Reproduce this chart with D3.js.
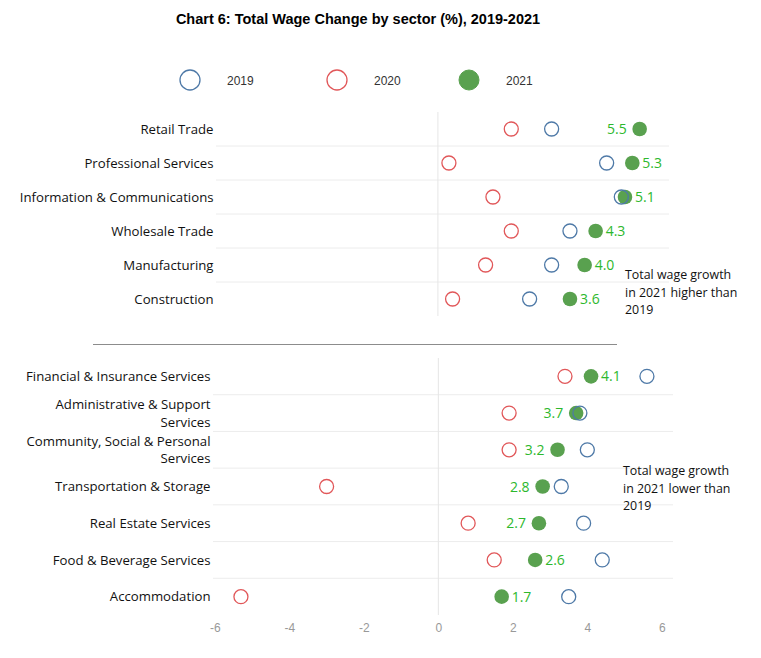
<!DOCTYPE html>
<html><head><meta charset="utf-8">
<script src="https://cdn.jsdelivr.net/npm/d3@7"></script>
<style>body{margin:0;background:#fff}svg{display:block}</style>
</head><body>
<script>
// ---- data ----
const topSectors = ["Retail Trade","Professional Services","Information & Communications","Wholesale Trade","Manufacturing","Construction"];
const top2019 = [3.1, 4.6, 5.0, 3.6, 3.1, 2.5];
const top2020 = [2.0, 0.3, 1.5, 2.0, 1.3, 0.4];
const top2021 = [5.5, 5.3, 5.1, 4.3, 4.0, 3.6];
const topLabelSide = ["left","right","right","right","right","right"];

const botSectors = ["Financial & Insurance Services","Administrative & Support|Services","Community, Social & Personal|Services","Transportation & Storage","Real Estate Services","Food & Beverage Services","Accommodation"];
const bot2019 = [5.6, 3.8, 4.0, 3.3, 3.9, 4.4, 3.5];
const bot2020 = [3.4, 1.9, 1.9, -3.0, 0.8, 1.5, -5.3];
const bot2021 = [4.1, 3.7, 3.2, 2.8, 2.7, 2.6, 1.7];
const botLabelSide = ["right","left","left","left","left","right","right"];

const xTicks = [-6,-4,-2,0,2,4,6];
const years = ["2019","2020","2021"];
const title = "Chart 6: Total Wage Change by sector (%), 2019-2021";
const noteTop = ["Total wage growth","in 2021 higher than","2019"];
const noteBot = ["Total wage growth","in 2021 lower than","2019"];

// ---- styles ----
const C19 = "#4e79a7", C20 = "#e15759", C21 = "#59a14f", CLAB = "#2db82d";
const FONT = "'Open Sans', 'Noto Sans', sans-serif";
const W = 761, H = 658;
const domain = [-6.05, 6.3];

const svg = d3.select("body").append("svg").attr("width", W).attr("height", H);

svg.append("text").attr("x", 358).attr("y", 24).attr("text-anchor","middle")
  .attr("font-family","'Liberation Sans', Arial, sans-serif").attr("font-weight","bold")
  .attr("font-size", 14.5).attr("fill","#000").text(title);

// legend
const legPos = [190, 337, 469];
const legG = svg.append("g");
years.forEach((y, i) => {
  const cx = legPos[i];
  const c = legG.append("circle").attr("cx", cx).attr("cy", 80).attr("r", 10);
  if (i === 2) c.attr("fill", C21).attr("stroke", C21);
  else c.attr("fill", "none").attr("stroke", i === 0 ? C19 : C20).attr("stroke-width", 1.3);
  legG.append("text").attr("x", cx + 37).attr("y", 84.5)
    .attr("font-family","'Liberation Sans', Arial, sans-serif").attr("font-size", 12)
    .attr("fill","#333").text(y);
});

function panel(sectors, v19, v20, v21, sides, xr, y0, y1, showAxis) {
  const x = d3.scaleLinear().domain(domain).range(xr);
  const y = d3.scaleBand().domain(sectors).range([y0, y1]);
  const g = svg.append("g");
  // row separators
  g.selectAll("line.row").data(sectors.slice(1)).join("line")
    .attr("x1", xr[0]).attr("x2", xr[1])
    .attr("y1", d => y(d)).attr("y2", d => y(d))
    .attr("stroke", "#ececec").attr("stroke-width", 1);
  // zero line
  g.append("line").attr("x1", x(0)).attr("x2", x(0)).attr("y1", y0).attr("y2", y1)
    .attr("stroke", "#e6e6e6").attr("stroke-width", 1);
  // category labels
  sectors.forEach(s => {
    const lines = s.split("|");
    const cy = y(s) + y.bandwidth() / 2;
    const t = g.append("text").attr("text-anchor","end").attr("font-family", FONT)
      .attr("font-size", 13.2).attr("fill", "#111");
    lines.forEach((ln, i) => {
      t.append("tspan").attr("x", xr[0] - 2.5)
        .attr("y", cy + 4.7 + (i - (lines.length - 1) / 2) * 17.5).text(ln);
    });
  });
  const cy = (d, i) => y(sectors[i]) + y.bandwidth() / 2;
  g.selectAll("circle.c20").data(v20).join("circle")
    .attr("cx", d => x(d)).attr("cy", cy).attr("r", 7)
    .attr("fill","none").attr("stroke", C20).attr("stroke-width", 1.3);
  g.selectAll("circle.c21").data(v21).join("circle")
    .attr("cx", d => x(d)).attr("cy", cy).attr("r", 7.3).attr("fill", C21);
  g.selectAll("circle.c19").data(v19).join("circle")
    .attr("cx", d => x(d)).attr("cy", cy).attr("r", 7)
    .attr("fill","none").attr("stroke", C19).attr("stroke-width", 1.3);
  g.selectAll("text.lab").data(v21).join("text")
    .attr("x", (d, i) => x(d) + (sides[i] === "left" ? -13 : 10))
    .attr("y", (d, i) => cy(d, i) + 5)
    .attr("text-anchor", (d, i) => sides[i] === "left" ? "end" : "start")
    .attr("font-family", FONT).attr("font-size", 14).attr("fill", CLAB)
    .text(d => d.toFixed(1));
  if (showAxis) {
    const ax = g.append("g").attr("transform", `translate(0,${y1 + 5})`)
      .call(d3.axisBottom(x).tickValues(xTicks).tickSize(0).tickFormat(d => String(d)));
    ax.select(".domain").remove();
    ax.selectAll("text").attr("font-family","'Liberation Sans', Arial, sans-serif")
      .attr("font-size", 12).attr("fill", "#999").attr("dy", "0.71em");
  }
  return x;
}

panel(topSectors, top2019, top2020, top2021, topLabelSide, [216, 669], 112, 316, false);
panel(botSectors, bot2019, bot2020, bot2021, botLabelSide, [213, 673], 358, 615, true);

// separator
svg.append("line").attr("x1", 93).attr("x2", 617).attr("y1", 344.5).attr("y2", 344.5)
  .attr("stroke", "#8c8c8c").attr("stroke-width", 1.2);

function note(lines, x0, yTop) {
  const t = svg.append("text").attr("font-family", FONT).attr("font-size", 12.4).attr("fill", "#111");
  lines.forEach((ln, i) => t.append("tspan").attr("x", x0).attr("y", yTop + i * 17.5).text(ln));
}
note(noteTop, 625, 279);
note(noteBot, 623, 475);
</script>
</body></html>
